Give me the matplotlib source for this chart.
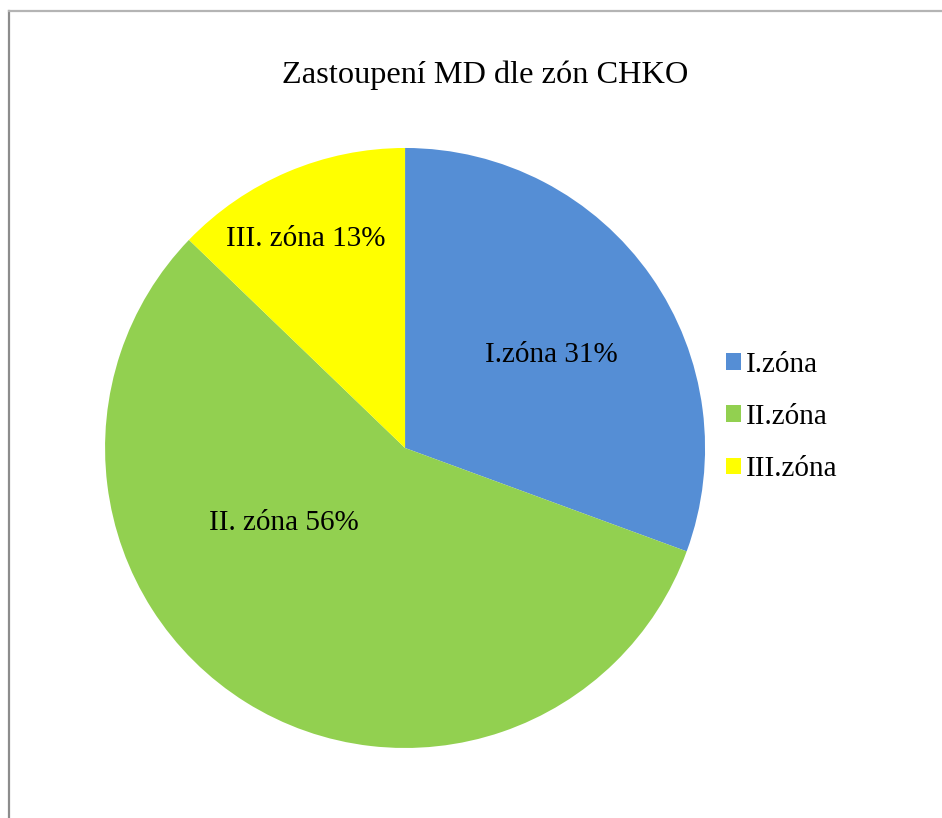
import matplotlib.pyplot as plt
from matplotlib.lines import Line2D

plt.rcParams['font.family'] = ['Liberation Serif', 'DejaVu Serif']

zones = ['I.zóna', 'II.zóna', 'III.zóna']
shares = [30.6, 56.6, 12.8]
slice_labels = ['I.zóna 31%', 'II. zóna 56%', 'III. zóna 13%']
colors = ['#558ED5', '#92D050', '#FFFF00']

fig = plt.figure(figsize=(9.42, 8.18), dpi=100)
ax = fig.add_axes([0.1115, 0.0856, 0.637, 0.7335])

wedges, _ = ax.pie(shares, colors=colors, startangle=90, counterclock=False,
                   radius=1, wedgeprops=dict(linewidth=0))
ax.set_xlim(-1, 1)
ax.set_ylim(-1, 1)
ax.set_aspect('equal')

# label spots inside each slice
label_pos = [(0.487, 0.31), (-0.403, -0.25), (-0.33, 0.695)]
for txt, (x, y) in zip(slice_labels, label_pos):
    ax.text(x, y, txt, ha='center', va='center', fontsize=21)

fig.text(0.515, 0.908, 'Zastoupení MD dle zón CHKO', ha='center', va='center',
         fontsize=23.3)

fig.legend(wedges, zones, loc='center left', bbox_to_anchor=(0.743, 0.49),
           frameon=False, fontsize=21, handlelength=0.51, handleheight=0.51,
           handletextpad=0.17, labelspacing=0.9)

# frame lines of the original chart area
fig.add_artist(Line2D([0.0096, 0.0096], [0, 0.9865], color='#8c8c8c', lw=1.6,
                      transform=fig.transFigure))
fig.add_artist(Line2D([0.0096, 1.0], [0.9865, 0.9865], color='#b4b4b4', lw=1.6,
                      transform=fig.transFigure))

fig.savefig('out.png', dpi=100)
